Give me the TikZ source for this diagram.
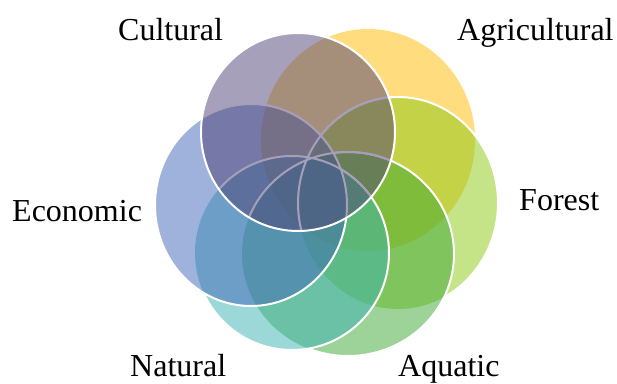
\documentclass[tikz,border=0pt]{standalone}
\usepackage{fontspec}
\setmainfont{Liberation Serif}
\definecolor{cultCol}{HTML}{4F4175}
\definecolor{agriCol}{HTML}{FFBC00}
\definecolor{forCol}{HTML}{8BC70F}
\definecolor{aquaCol}{HTML}{3BA733}
\definecolor{natCol}{HTML}{3BB1B1}
\definecolor{ecoCol}{HTML}{3D65B9}
% the six rings
\newcommand{\ovAgr}{(Agr) ellipse [x radius=107, y radius=111]}
\newcommand{\ovFor}{(For) ellipse [x radius=100, y radius=106]}
\newcommand{\ovAqu}{(Aqu) ellipse [x radius=106, y radius=102]}
\newcommand{\ovNat}{(Nat) ellipse [x radius=97, y radius=97]}
\newcommand{\ovEco}{(Eco) ellipse [x radius=96, y radius=101]}
\newcommand{\ovCul}{(Cul) ellipse [x radius=97, y radius=99]}
\newcommand{\outside}{(0,0) rectangle (617,383)}
\begin{document}
\begin{tikzpicture}[x=1pt, y=-1pt, line join=round, line cap=round,
	lbl/.style={anchor=base west, inner sep=0pt, font=\fontsize{32}{38}\selectfont},
	blob/.style={fill opacity=0.5},
	rim/.style={draw=white, line width=2pt}]
	\useasboundingbox (0,0) rectangle (617,383);
	\coordinate (Agr) at (368,140);
	\coordinate (For) at (398,203);
	\coordinate (Aqu) at (348,254);
	\coordinate (Nat) at (292,253);
	\coordinate (Eco) at (251,205);
	\coordinate (Cul) at (298,132);
	% fills, back to front
	\fill[blob, agriCol] \ovAgr;
	\fill[blob, forCol] \ovFor;
	\fill[blob, aquaCol] \ovAqu;
	\fill[blob, natCol] \ovNat;
	\fill[blob, ecoCol] \ovEco;
	% rims, hidden under the later rings
	\begin{scope}[even odd rule]
		\clip \outside \ovAqu;
		\clip \outside \ovNat;
		\clip \outside \ovEco;
		\draw[rim] \ovFor;
	\end{scope}
	\begin{scope}[even odd rule]
		\clip \outside \ovNat;
		\clip \outside \ovEco;
		\draw[rim] \ovAqu;
	\end{scope}
	\begin{scope}[even odd rule]
		\clip \outside \ovEco;
		\draw[rim] \ovNat;
	\end{scope}
	\draw[rim] \ovEco;
	\begin{scope}
		\clip \ovCul;
		\draw[rim] \ovFor \ovAqu \ovNat;
	\end{scope}
	\filldraw[blob, rim, fill=cultCol] \ovCul;
	% labels
	\node[lbl] (cult) at (118,40) {Cultural};
	\node[lbl] (agri) at (457,40) {Agricultural};
	\node[lbl] (eco) at (12,221) {Economic};
	\node[lbl] (for) at (519,210) {Forest};
	\node[lbl] (nat) at (130,376) {Natural};
	\node[lbl] (aqua) at (398,376) {Aquatic};
\end{tikzpicture}
\end{document}
